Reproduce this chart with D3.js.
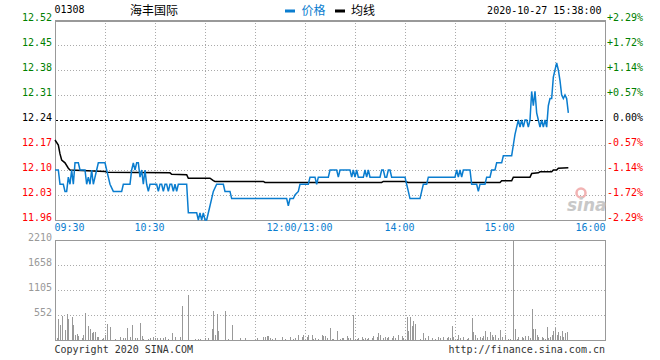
<!DOCTYPE html>
<html><head><meta charset="utf-8">
<script src="https://cdn.jsdelivr.net/npm/d3@7/dist/d3.min.js"></script>
<style>html,body{margin:0;padding:0;background:#fff;}svg{display:block;}</style>
</head><body>
<svg id="chart" width="660" height="360"></svg>
<script>
const stockCode = "01308";
const stockName = "海丰国际";
const timeStamp = "2020-10-27 15:38:00";
const legendNames = ["价格", "均线"];
const priceTicks = [12.52, 12.45, 12.38, 12.31, 12.24, 12.17, 12.10, 12.03, 11.96];
const pctTicks = ["+2.29%", "+1.72%", "+1.14%", "+0.57%", "0.00%", "-0.57%", "-1.14%", "-1.72%", "-2.29%"];
const prevClose = 12.24;
const volTicks = [2210, 1658, 1105, 552];
const timeLabels = ["09:30", "10:30", "12:00/13:00", "14:00", "15:00", "16:00"];
const timeLabelMinutes = [0, 60, 150, 210, 270, 330];

const priceMin = [0,2,3,5,6,7,8,9,10,11,12,14,15,18,19,20,21,22,23,24,25,26,30,31,32,33,35,40,41,45,46,47,48,49,50,51,52,53,54,55,56,57,61,62,63,64,65,66,67,68,69,70,71,72,73,74,79,80,85,86,87,88,89,90,91,93,94,95,97,101,102,105,106,139,140,141,143,144,146,147,152,153,156,157,158,164,165,169,170,171,177,178,179,180,181,182,185,186,187,188,189,195,196,197,198,199,200,201,202,210,211,212,213,219,220,221,223,224,240,241,242,243,244,245,249,250,253,254,255,258,259,261,262,264,265,268,269,274,275,276,277,278,279,280,281,282,283,284,285,286,287,288,289,290,291,292,293,294,295,296,297,298,299,300,301,302,303,304,305,306,307,308];
const priceVal = [12.10,12.10,12.06,12.06,12.04,12.04,12.08,12.06,12.10,12.06,12.12,12.12,12.10,12.10,12.06,12.08,12.06,12.10,12.06,12.08,12.10,12.12,12.12,12.10,12.08,12.06,12.04,12.04,12.06,12.06,12.10,12.12,12.10,12.12,12.12,12.08,12.10,12.06,12.10,12.06,12.04,12.06,12.06,12.04,12.06,12.06,12.04,12.06,12.06,12.04,12.06,12.06,12.04,12.06,12.04,12.06,12.06,11.98,11.98,11.96,11.98,11.96,11.98,11.96,11.96,12.00,12.02,12.04,12.06,12.06,12.04,12.04,12.02,12.02,12.00,12.02,12.02,12.03,12.04,12.06,12.06,12.08,12.08,12.06,12.08,12.08,12.10,12.10,12.08,12.10,12.10,12.08,12.10,12.08,12.10,12.08,12.08,12.10,12.08,12.10,12.08,12.08,12.10,12.10,12.08,12.08,12.10,12.10,12.08,12.08,12.06,12.04,12.02,12.02,12.04,12.06,12.06,12.08,12.08,12.10,12.08,12.10,12.08,12.10,12.10,12.06,12.06,12.04,12.06,12.06,12.08,12.08,12.10,12.10,12.12,12.12,12.14,12.14,12.17,12.20,12.22,12.24,12.22,12.24,12.22,12.24,12.24,12.22,12.24,12.32,12.28,12.32,12.26,12.24,12.22,12.24,12.22,12.24,12.22,12.28,12.30,12.30,12.36,12.38,12.40,12.38,12.35,12.31,12.30,12.31,12.30,12.26];

const avgMin = [0,2,3,4,6,8,9,30,31,69,70,79,80,93,95,96,125,126,196,197,210,212,267,268,274,275,285,286,290,291,298,299,301,302,308];
const avgVal = [12.184,12.17,12.145,12.128,12.12,12.105,12.10,12.096,12.094,12.092,12.088,12.087,12.077,12.077,12.070,12.068,12.068,12.065,12.065,12.068,12.068,12.065,12.065,12.070,12.070,12.080,12.080,12.090,12.092,12.095,12.095,12.100,12.100,12.105,12.106];

const volMin = [1,2,3,4,6,7,8,10,11,12,13,14,16,17,18,20,21,22,23,24,25,26,28,29,30,31,33,36,39,41,42,43,45,46,48,49,51,52,53,56,57,59,60,61,63,65,66,68,70,72,75,76,80,84,86,87,90,92,94,95,96,97,98,102,104,106,111,114,121,125,126,127,128,129,130,132,136,138,141,143,144,146,148,149,151,152,154,155,156,158,160,161,162,163,165,166,167,169,171,172,173,175,176,177,179,180,181,182,184,185,186,187,188,190,191,193,194,195,197,198,199,200,202,203,204,206,208,209,211,212,213,214,215,216,219,221,222,224,226,228,230,231,233,235,236,237,238,239,241,242,243,245,247,248,250,251,252,253,255,256,257,258,259,261,262,263,264,266,267,268,270,272,273,275,276,277,278,280,281,282,284,285,286,287,288,289,290,292,293,294,295,296,297,298,299,300,301,302,303,304,305,306,307];
const volVal = [40,460,330,540,220,570,460,510,330,110,130,80,40,110,600,310,240,150,170,170,70,60,20,40,110,350,290,20,70,40,50,260,70,330,50,50,380,80,20,20,40,70,40,40,40,40,60,30,150,70,70,750,995,20,20,20,40,40,240,650,110,575,200,640,20,330,40,40,40,60,70,80,80,50,30,40,60,30,60,30,40,110,70,110,70,110,110,30,40,30,110,90,80,40,260,30,20,200,20,40,50,80,40,50,550,30,20,40,70,30,50,30,40,50,80,70,150,110,40,60,40,70,50,80,40,110,90,40,515,200,515,310,420,350,20,150,40,90,40,30,60,40,60,40,60,40,310,60,30,110,40,60,30,40,490,170,110,40,60,50,90,190,60,170,110,60,110,40,220,70,110,30,30,2210,240,30,60,60,50,80,90,40,685,240,240,110,60,70,50,30,280,40,70,110,200,260,110,170,90,200,60,150,185];

const svg = d3.select("#chart");
const L = 55, R = 605, PT = 20, PB = 220, VT = 240, VB = 340;
const x = d3.scaleLinear().domain([0, 330]).range([L, R]);
const y = d3.scaleLinear().domain([11.96, 12.52]).range([PB, PT]);
const yv = d3.scaleLinear().domain([0, 2210]).range([VB, VT]);
const mono = "'DejaVu Sans Mono', monospace";
const cjk = "'Noto Sans CJK SC', sans-serif";
const GREEN = "#008000", RED = "#ff0000", BLUE = "#0a7dcf", GRID = "#aaa", FRAME = "#999";

svg.append("rect").attr("width", 660).attr("height", 360).attr("fill", "#fff");

// vertical grid
const gridMins = d3.range(30, 330, 30);
const g = svg.append("g").attr("shape-rendering", "crispEdges");
gridMins.forEach(m => {
  const xx = Math.round(x(m)) + 0.5;
  g.append("line").attr("x1", xx).attr("x2", xx).attr("y1", PT).attr("y2", PB)
    .attr("stroke", GRID).attr("stroke-dasharray", "1,2");
  g.append("line").attr("x1", xx).attr("x2", xx).attr("y1", VT).attr("y2", VB)
    .attr("stroke", GRID).attr("stroke-dasharray", "1,2");
});
// horizontal price grid
priceTicks.forEach(p => {
  if (p === priceTicks[0] || p === priceTicks[priceTicks.length - 1] || p === prevClose) return;
  const yy = Math.round(y(p)) + 0.5;
  g.append("line").attr("x1", L).attr("x2", R).attr("y1", yy).attr("y2", yy)
    .attr("stroke", GRID).attr("stroke-dasharray", "1,2");
});
volTicks.slice(1).forEach(v => {
  const yy = Math.round(yv(v)) + 0.5;
  g.append("line").attr("x1", L).attr("x2", R).attr("y1", yy).attr("y2", yy)
    .attr("stroke", GRID).attr("stroke-dasharray", "1,2");
});
// prev close dashed
g.append("line").attr("x1", L).attr("x2", R).attr("y1", Math.round(y(prevClose)) + 0.5).attr("y2", Math.round(y(prevClose)) + 0.5)
  .attr("stroke", "#000").attr("stroke-width", 1.3).attr("stroke-dasharray", "3,2");

// volume bars
const vb = svg.append("g").attr("shape-rendering", "crispEdges");
volMin.forEach((m, i) => {
  const xx = Math.round(x(m)) + 0.5;
  vb.append("line").attr("x1", xx).attr("x2", xx).attr("y1", VB).attr("y2", yv(volVal[i]))
    .attr("stroke", "#999").attr("stroke-width", 1);
});

// frames
const fr = svg.append("g").attr("shape-rendering", "crispEdges").attr("fill", "none").attr("stroke", FRAME);
fr.append("path").attr("d", `M${L+0.5},${PB+0.5}V${PT+0.5}H${R+0.5}V${PB+0.5}H${L+0.5}`).attr("stroke-width", 1);
fr.append("line").attr("x1", L).attr("x2", R + 1).attr("y1", PT + 0.5).attr("y2", PT + 0.5).attr("stroke-width", 2);
fr.append("rect").attr("x", L + 0.5).attr("y", VT + 0.5).attr("width", R - L).attr("height", VB - VT);

// watermark
const wm = svg.append("g");
wm.append("circle").attr("cx", 581).attr("cy", 193).attr("r", 4.5).attr("fill", "none").attr("stroke", "#f2b3b3").attr("stroke-width", 2.5);
wm.append("text").attr("x", 567).attr("y", 211).text("sina")
  .attr("font-family", "'DejaVu Sans', sans-serif").attr("font-size", 17).attr("font-weight", "bold")
  .attr("font-style", "italic").attr("fill", "#c8c8c8");

// lines
const pts = priceMin.map((m, i) => [m, priceVal[i]]);
const apts = avgMin.map((m, i) => [m, avgVal[i]]);
const line = d3.line().x(d => x(d[0])).y(d => y(d[1]));
svg.append("path").datum(apts).attr("d", line).attr("fill", "none").attr("stroke", "#000").attr("stroke-width", 1.5);
svg.append("path").datum(pts).attr("d", line).attr("fill", "none").attr("stroke", BLUE).attr("stroke-width", 1.5);

// axis labels
const txt = svg.append("g").attr("font-family", mono).attr("font-size", 10);
priceTicks.forEach((p, i) => {
  const c = p > prevClose ? GREEN : (p < prevClose ? RED : "#000");
  txt.append("text").attr("x", 52).attr("y", y(p) + 1).attr("text-anchor", "end").attr("fill", c).text(p.toFixed(2));
  txt.append("text").attr("x", 643).attr("y", y(p) + 1).attr("text-anchor", "end").attr("fill", c).text(pctTicks[i]);
});
volTicks.forEach(v => {
  txt.append("text").attr("x", 52).attr("y", yv(v) + 1).attr("text-anchor", "end").attr("fill", "#999").text(v);
});
timeLabels.forEach((t, i) => {
  const m = timeLabelMinutes[i];
  let anchor = "middle", xx = x(m) - 5.5;
  if (i === 0) { anchor = "start"; xx = x(m) - 0.5; }
  if (i === timeLabels.length - 1) { anchor = "end"; xx = x(m) + 0.5; }
  txt.append("text").attr("x", xx).attr("y", 231).attr("text-anchor", anchor).attr("fill", BLUE).text(t);
});
txt.append("text").attr("x", 54.5).attr("y", 353).attr("fill", "#333").text("Copyright 2020 SINA.COM");
txt.append("text").attr("x", 605).attr("y", 353).attr("text-anchor", "end").attr("fill", "#333").text("http://finance.sina.com.cn");

// header
txt.append("text").attr("x", 54.5).attr("y", 12.5).attr("fill", "#000").text(stockCode);
txt.append("text").attr("x", 601.5).attr("y", 13.5).attr("text-anchor", "end").attr("fill", "#000").text(timeStamp);
svg.append("text").attr("x", 130).attr("y", 14.5).attr("font-family", cjk).attr("font-size", 12).attr("fill", "#000").text(stockName);
svg.append("rect").attr("x", 285).attr("y", 9.5).attr("width", 10).attr("height", 3).attr("fill", BLUE);
svg.append("text").attr("x", 301.5).attr("y", 14.5).attr("font-family", cjk).attr("font-size", 12).attr("fill", BLUE).text(legendNames[0]);
svg.append("rect").attr("x", 335).attr("y", 9.5).attr("width", 10).attr("height", 3).attr("fill", "#000");
svg.append("text").attr("x", 351).attr("y", 14.5).attr("font-family", cjk).attr("font-size", 12).attr("fill", "#000").text(legendNames[1]);
</script>
</body></html>
